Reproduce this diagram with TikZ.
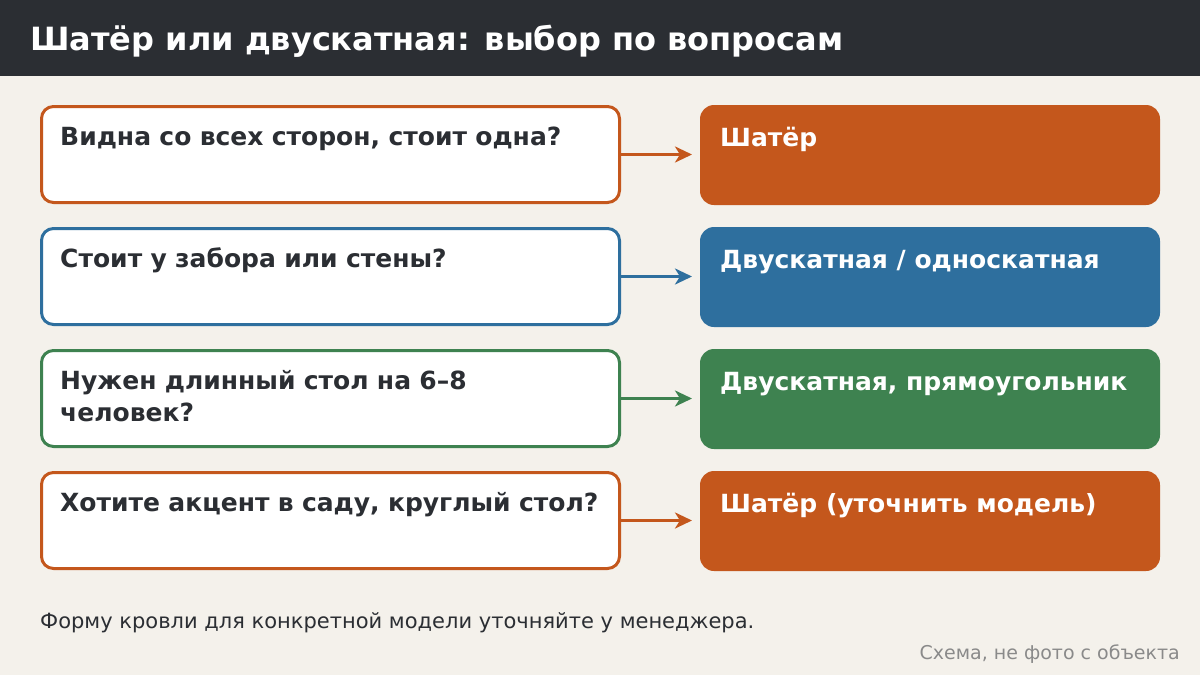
\documentclass[tikz,border=0pt]{standalone}
\usepackage{fontspec}
\setmainfont{DejaVu Sans}
\usepackage{xcolor}
\usepackage{tikz}
\usetikzlibrary{arrows.meta}

\definecolor{ink}{HTML}{2B2E33}
\definecolor{paper}{HTML}{F4F1EB}
\definecolor{rust}{HTML}{C4571C}
\definecolor{sea}{HTML}{2E6F9E}
\definecolor{moss}{HTML}{3E8250}
\definecolor{muted}{HTML}{8A8A8A}

\tikzset{
  question/.style={draw=#1, line width=3pt, fill=white, rounded corners=12pt,
    minimum width=578pt, minimum height=96pt, inner sep=0pt, outer sep=0pt,
    anchor=north west},
  answer/.style={fill=#1, rounded corners=14pt, outer sep=0pt,
    minimum width=460pt, minimum height=100pt, inner sep=0pt, anchor=north west},
  qtext/.style={text=ink, font=\fontsize{25}{32}\selectfont\bfseries,
    anchor=base west, inner sep=0pt, align=left, text width=560pt},
  atext/.style={text=white, font=\fontsize{25}{32}\selectfont\bfseries,
    anchor=base west, inner sep=0pt, align=left},
  link/.style={draw=#1, line width=3pt, shorten >=8pt,
    -{Stealth[length=17pt,width=16pt,inset=5pt]}}
}

\begin{document}
\begin{tikzpicture}[x=1pt,y=-1pt]
 \useasboundingbox (0,0) rectangle (1200,675);
 \fill[paper] (0,0) rectangle (1200,675);
 \fill[ink] (0,0) rectangle (1200,76);
 \node[anchor=base west, inner sep=0pt, text=white,
   font=\fontsize{32}{38}\selectfont\bfseries] (title) at (30,50)
   {Шатёр или двускатная: выбор по вопросам};

 % questions
 \node[question=rust] (q1) at (41.5,106.5) {};
 \node[question=sea]  (q2) at (41.5,228.5) {};
 \node[question=moss] (q3) at (41.5,350.5) {};
 \node[question=rust] (q4) at (41.5,472.5) {};
 \node[qtext] (t1) at (60,145) {Видна со всех сторон, стоит одна?};
 \node[qtext] (t2) at (60,267) {Стоит у забора или стены?};
 \node[qtext] (t3) at (60,389) {Нужен длинный стол на 6–8\\человек?};
 \node[qtext] (t4) at (60,511) {Хотите акцент в саду, круглый стол?};

 % answers
 \node[answer=rust] (a1) at (700,105) {};
 \node[answer=sea]  (a2) at (700,227) {};
 \node[answer=moss] (a3) at (700,349) {};
 \node[answer=rust] (a4) at (700,471) {};
 \node[atext] (s1) at (720,146) {Шатёр};
 \node[atext] (s2) at (720,268) {Двускатная / односкатная};
 \node[atext] (s3) at (720,390) {Двускатная, прямоугольник};
 \node[atext] (s4) at (720,512) {Шатёр (уточнить модель)};

 \draw[link=rust] (q1.east) -- (q1.east -| a1.west);
 \draw[link=sea]  (q2.east) -- (q2.east -| a2.west);
 \draw[link=moss] (q3.east) -- (q3.east -| a3.west);
 \draw[link=rust] (q4.east) -- (q4.east -| a4.west);

 \node[anchor=base west, inner sep=0pt, text=ink,
   font=\fontsize{21}{25}\selectfont] (note) at (40,628)
   {Форму кровли для конкретной модели уточняйте у менеджера.};
 \node[anchor=base east, inner sep=0pt, text=muted,
   font=\fontsize{19}{23}\selectfont] (credit) at (1180,659)
   {Схема, не фото с объекта};
\end{tikzpicture}
\end{document}
